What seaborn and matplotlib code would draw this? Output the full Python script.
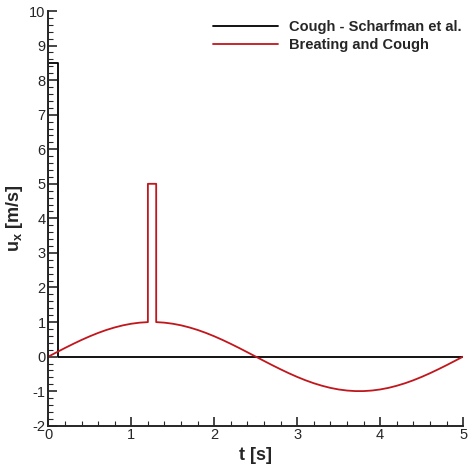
import matplotlib
matplotlib.use("Agg")
import matplotlib.pyplot as plt
from matplotlib.ticker import MultipleLocator
import seaborn as sns
import pandas as pd

# Data
cough_t = [0.0, 0.0, 0.12, 0.12, 5.0]
cough_u = [0.0, 8.5, 8.5, 0.0, 0.0]

breath_t = [0.0, 0.1, 0.2, 0.3, 0.4, 0.5, 0.6, 0.7, 0.8, 0.9, 1.0, 1.1, 1.2,
            1.2, 1.3, 1.3,
            1.4, 1.5, 1.6, 1.7, 1.8, 1.9, 2.0, 2.1, 2.2, 2.3, 2.4, 2.5,
            2.6, 2.7, 2.8, 2.9, 3.0, 3.1, 3.2, 3.3, 3.4, 3.5, 3.6, 3.7, 3.8,
            3.9, 4.0, 4.1, 4.2, 4.3, 4.4, 4.5, 4.6, 4.7, 4.8, 4.9, 5.0]
breath_u = [0.0, 0.125, 0.249, 0.368, 0.482, 0.588, 0.685, 0.771, 0.844, 0.905, 0.951, 0.982, 0.998,
            5.0, 5.0, 0.998,
            0.982, 0.951, 0.905, 0.844, 0.771, 0.685, 0.588, 0.482, 0.368, 0.249, 0.125, 0.0,
            -0.125, -0.249, -0.368, -0.482, -0.588, -0.685, -0.771, -0.844, -0.905, -0.951, -0.982, -0.998,
            -0.998, -0.982, -0.951, -0.905, -0.844, -0.771, -0.685, -0.588, -0.482, -0.368, -0.249, -0.125, 0.0]

labels = ["Cough - Scharfman et al.", "Breating and Cough"]
colors = ["#000000", "#c0161c"]

sns.set_style("ticks")
plt.rcParams["font.family"] = ["Liberation Sans", "DejaVu Sans"]
plt.rcParams["axes.unicode_minus"] = False
plt.rcParams["mathtext.fontset"] = "custom"
plt.rcParams["mathtext.bf"] = "Liberation Sans:bold"
plt.rcParams["mathtext.rm"] = "Liberation Sans"

fig = plt.figure(figsize=(4.74, 4.67), dpi=100)
ax = fig.add_axes([0.102, 0.0884, 0.875, 0.888])

df1 = pd.DataFrame({"t": cough_t, "u": cough_u})
df2 = pd.DataFrame({"t": breath_t, "u": breath_u})
sns.lineplot(data=df1, x="t", y="u", sort=False, estimator=None, color=colors[0],
             lw=1.3, label=labels[0], ax=ax)
sns.lineplot(data=df2, x="t", y="u", sort=False, estimator=None, color=colors[1],
             lw=1.3, label=labels[1], ax=ax)

ax.set_xlim(0, 5)
ax.set_ylim(-2, 10)
ax.xaxis.set_major_locator(MultipleLocator(1))
ax.xaxis.set_minor_locator(MultipleLocator(0.2))
ax.yaxis.set_major_locator(MultipleLocator(1))
ax.yaxis.set_minor_locator(MultipleLocator(0.2))
ax.tick_params(which="major", direction="in", length=6.5, width=1.2, labelsize=10.5, pad=2)
ax.tick_params(which="minor", direction="in", length=3.5, width=0.8)
for s in ["top", "right"]:
    ax.spines[s].set_visible(False)
for s in ["left", "bottom"]:
    ax.spines[s].set_linewidth(1.4)

ax.set_xlabel("t [s]", fontsize=13, fontweight="bold", labelpad=3)
ax.set_ylabel(r"$\mathbf{u_x}$ [m/s]", fontsize=13, fontweight="bold", labelpad=3)

leg = ax.legend(loc="upper left", bbox_to_anchor=(0.365, 1.01), frameon=False,
                handlelength=4.5, handletextpad=0.75, labelspacing=0.3,
                prop={"size": 10.5, "weight": "bold"})

fig.savefig("out.png", dpi=100)
